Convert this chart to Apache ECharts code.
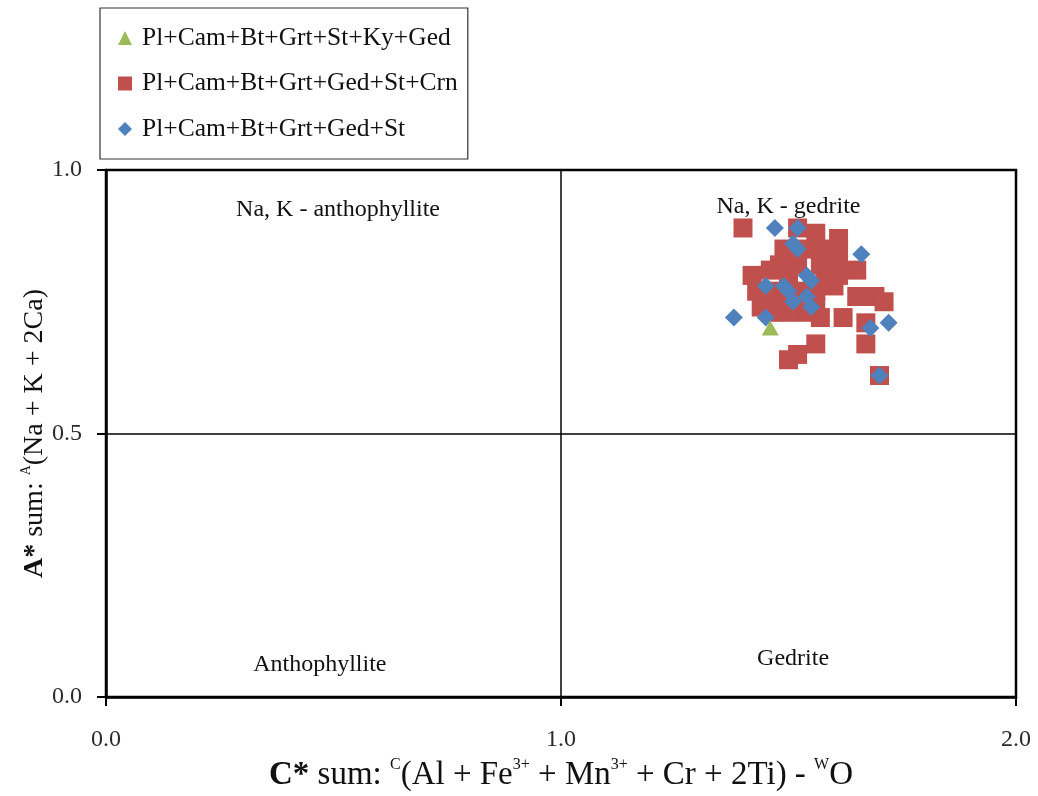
<!DOCTYPE html>
<html>
<head>
<meta charset="utf-8">
<script src="https://cdn.jsdelivr.net/npm/echarts@6/dist/echarts.min.js"></script>
<style>
  html, body { margin: 0; padding: 0; background: #fff; }
  #chart { width: 1038px; height: 796px; }
</style>
</head>
<body>
<div id="chart"></div>
<script>
// Assemblage names (legend order)
const seriesNames = [
  'Pl+Cam+Bt+Grt+St+Ky+Ged',
  'Pl+Cam+Bt+Grt+Ged+St+Crn',
  'Pl+Cam+Bt+Grt+Ged+St'
];

// C* (x) and A* (y) for each analysis
const stKyGed = [
  [1.46, 0.70]
];

const gedStCrn = [
  [1.40, 0.89], [1.52, 0.89], [1.56, 0.88], [1.61, 0.87],
  [1.49, 0.85], [1.53, 0.85], [1.57, 0.85], [1.61, 0.85],
  [1.48, 0.82], [1.52, 0.82], [1.57, 0.82], [1.61, 0.82],
  [1.42, 0.80], [1.46, 0.81], [1.50, 0.80], [1.58, 0.80], [1.61, 0.80],
  [1.43, 0.77], [1.47, 0.77], [1.52, 0.77], [1.56, 0.77], [1.60, 0.78],
  [1.44, 0.74], [1.48, 0.75], [1.53, 0.74], [1.56, 0.74],
  [1.46, 0.73], [1.50, 0.73], [1.54, 0.73],
  [1.57, 0.72], [1.62, 0.72],
  [1.65, 0.81], [1.65, 0.76], [1.69, 0.76], [1.71, 0.75],
  [1.67, 0.71], [1.67, 0.67], [1.70, 0.61],
  [1.50, 0.64], [1.52, 0.65], [1.56, 0.67]
];

const gedSt = [
  [1.47, 0.89], [1.52, 0.89], [1.51, 0.86], [1.52, 0.85],
  [1.66, 0.84], [1.54, 0.80], [1.55, 0.79],
  [1.45, 0.78], [1.49, 0.78], [1.50, 0.77], [1.54, 0.76],
  [1.51, 0.75], [1.55, 0.74],
  [1.38, 0.72], [1.45, 0.72], [1.68, 0.70], [1.72, 0.71],
  [1.70, 0.61]
];

// Field names placed inside the four quadrants
const regionLabels = [
  [0.51, 0.924, 'Na, K - anthophyllite'],
  [1.50, 0.930, 'Na, K - gedrite'],
  [0.47, 0.061, 'Anthophyllite'],
  [1.51, 0.072, 'Gedrite']
];

const xTickStep = 1.0;
const yTickStep = 0.5;

const serif = '"Liberation Serif", "Times New Roman", serif';
const ink = '#111';

const chart = echarts.init(document.getElementById('chart'), null, { renderer: 'canvas' });

function titleStyle(size, supSize, lh) {
  return {
    fontFamily: serif, fontSize: size, color: ink, lineHeight: lh,
    rich: {
      b: { fontFamily: serif, fontSize: size, fontWeight: 'bold', color: ink, lineHeight: lh },
      sup: { fontFamily: serif, fontSize: supSize, color: ink, verticalAlign: 'top', lineHeight: lh }
    }
  };
}

chart.setOption({
  animation: false,
  backgroundColor: '#fff',
  grid: {
    left: 106, right: 22, top: 170, bottom: 99,
    outerBoundsMode: 'none',
    show: true, borderColor: '#000', borderWidth: 2.5, backgroundColor: 'transparent'
  },
  legend: {
    orient: 'vertical',
    left: 100, top: 8,
    padding: [17, 10, 17, 18],
    itemGap: 19.5,
    itemWidth: 14, itemHeight: 14,
    borderColor: '#333', borderWidth: 1.2, borderRadius: 0,
    textStyle: { fontFamily: serif, fontSize: 25.5, color: ink, padding: [0, 0, 0, 5] },
    data: [
      { name: seriesNames[0], icon: 'triangle' },
      { name: seriesNames[1], icon: 'rect' },
      { name: seriesNames[2], icon: 'diamond' }
    ]
  },
  xAxis: {
    type: 'value', min: 0, max: 2, interval: xTickStep,
    axisLine: { show: true, lineStyle: { color: '#000', width: 2.5 } },
    axisTick: { show: true, inside: false, length: 9, lineStyle: { color: '#000', width: 2 } },
    axisLabel: {
      margin: 31, fontFamily: serif, fontSize: 24, color: '#2a2a2a',
      formatter: v => v.toFixed(1)
    },
    splitLine: { show: true, lineStyle: { color: '#000', width: 1.5 } },
    name: '{b|C*} sum: {sup|C}(Al + Fe{sup|3+} + Mn{sup|3+} + Cr + 2Ti) - {sup|W}O',
    nameLocation: 'middle',
    nameGap: 60,
    nameMoveOverlap: false,
    nameTextStyle: titleStyle(33, 16, 36)
  },
  yAxis: {
    type: 'value', min: 0, max: 1, interval: yTickStep,
    axisLine: { show: true, lineStyle: { color: '#000', width: 2.5 } },
    axisTick: { show: true, inside: false, length: 9, lineStyle: { color: '#000', width: 2 } },
    axisLabel: {
      margin: 24, fontFamily: serif, fontSize: 24, color: '#2a2a2a',
      formatter: v => v.toFixed(1)
    },
    splitLine: { show: true, lineStyle: { color: '#000', width: 1.5 } },
    name: '{b|A*} sum: {sup|A}(Na + K + 2Ca)',
    nameLocation: 'middle',
    nameGap: 55,
    nameMoveOverlap: false,
    nameTextStyle: titleStyle(28, 14, 32)
  },
  series: [
    {
      name: 'regions',
      type: 'scatter',
      data: regionLabels,
      symbolSize: 0,
      silent: true,
      itemStyle: { opacity: 1 },
      label: {
        show: true, position: 'inside',
        formatter: p => p.data[2],
        fontFamily: serif, fontSize: 24, color: ink
      }
    },
    {
      name: seriesNames[1],
      type: 'scatter',
      data: gedStCrn,
      symbol: 'rect',
      symbolSize: 19,
      itemStyle: { color: '#C0504D', opacity: 1 }
    },
    {
      name: seriesNames[2],
      type: 'scatter',
      data: gedSt,
      symbol: 'diamond',
      symbolSize: 18,
      itemStyle: { color: '#4F81BD', opacity: 1 }
    },
    {
      name: seriesNames[0],
      type: 'scatter',
      data: stKyGed,
      symbol: 'triangle',
      symbolSize: [17, 15],
      itemStyle: { color: '#9BBB59', opacity: 1 }
    }
  ]
});
</script>
</body>
</html>
